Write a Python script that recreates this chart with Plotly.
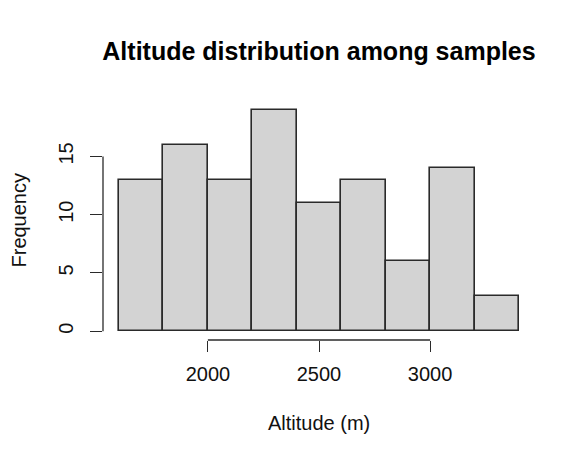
import plotly.graph_objects as go

# Histogram data (bin edges 200 m wide)
bin_starts = [1600, 1800, 2000, 2200, 2400, 2600, 2800, 3000, 3200]
bin_width = 200
counts = [13, 16, 13, 19, 11, 13, 6, 14, 3]
x_ticks = [2000, 2500, 3000]
y_ticks = [0, 5, 10, 15]

centers = [s + bin_width / 2 for s in bin_starts]
x_lo, x_hi = bin_starts[0], bin_starts[-1] + bin_width
x_pad = 0.04 * (x_hi - x_lo)
y_max = max(counts)
y_pad = 0.04 * y_max

FONT = "Liberation Sans, Arial, Helvetica, sans-serif"
LINE = "#2a2a2a"

fig = go.Figure()
fig.add_trace(go.Bar(
    x=centers, y=counts, width=[bin_width] * len(counts),
    marker=dict(color="#d3d3d3", line=dict(color=LINE, width=1.6)),
    showlegend=False, hoverinfo="x+y",
))

fig.update_layout(
    width=584, height=463,
    margin=dict(l=103, r=49, t=101, b=123, autoexpand=False),
    paper_bgcolor="white", plot_bgcolor="white",
    font=dict(family=FONT, size=20, color="#111"),
    bargap=0,
    title=dict(text="<b>Altitude distribution among samples</b>",
               x=0.5, xref="paper", xanchor="center",
               y=1 - 51 / 463, yref="container", yanchor="middle",
               font=dict(family=FONT, size=25, color="#000")),
    xaxis=dict(range=[x_lo - x_pad, x_hi + x_pad], showgrid=False, zeroline=False,
               showline=False, tickmode="array", tickvals=x_ticks,
               ticktext=[str(v) for v in x_ticks],
               ticks="outside", ticklen=11, tickwidth=1.3, tickcolor=LINE,
               ticklabelstandoff=5, fixedrange=True),
    yaxis=dict(range=[-y_pad, y_max + y_pad], showgrid=False, zeroline=False,
               showline=False, tickmode="array", tickvals=y_ticks,
               ticktext=[str(v) for v in y_ticks], tickangle=-90,
               ticks="outside", ticklen=12, tickwidth=1.3, tickcolor=LINE,
               ticklabelstandoff=9, fixedrange=True),
    shapes=[
        dict(type="line", xref="x", yref="paper", x0=x_ticks[0], x1=x_ticks[-1],
             y0=0, y1=0, line=dict(color=LINE, width=1.3)),
        dict(type="line", xref="paper", yref="y", x0=0, x1=0,
             y0=y_ticks[0], y1=y_ticks[-1], line=dict(color=LINE, width=1.3)),
    ],
    annotations=[
        dict(text="Altitude (m)", xref="paper", yref="paper", x=0.5, y=0,
             xanchor="center", yanchor="middle", yshift=-83, showarrow=False,
             font=dict(family=FONT, size=20, color="#111")),
        dict(text="Frequency", xref="paper", yref="paper", x=0, y=0.5,
             xanchor="center", yanchor="middle", xshift=-85, textangle=-90,
             showarrow=False, font=dict(family=FONT, size=20, color="#111")),
    ],
)

fig.write_html("out.html")
